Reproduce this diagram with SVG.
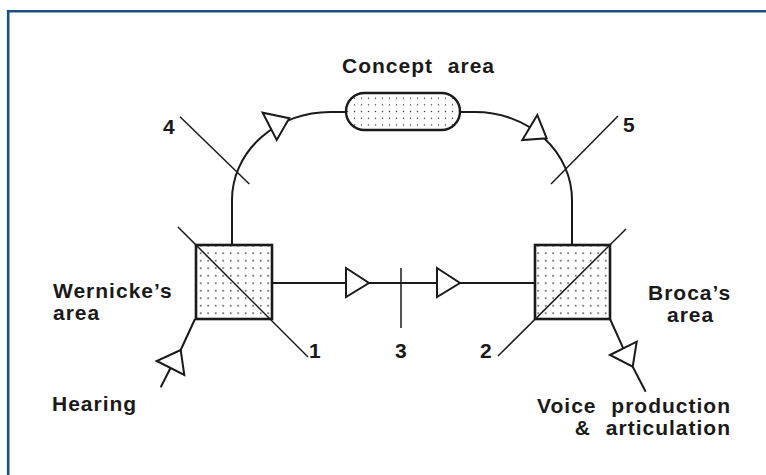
<svg xmlns="http://www.w3.org/2000/svg" width="766" height="475" viewBox="0 0 766 475">
<style>
.lbl{font-family:"Liberation Sans",Arial,sans-serif;font-weight:bold;font-size:21px;fill:#1a1a1a;letter-spacing:1px;word-spacing:8px}
.box{fill:url(#dots);stroke:#1a1a1a;stroke-width:2.6}
.ln{fill:none;stroke:#1a1a1a;stroke-width:2}
.thin{fill:none;stroke:#1a1a1a;stroke-width:1.5}
.arr{fill:#fff;stroke:#1a1a1a;stroke-width:2;stroke-linejoin:miter}
</style>
<defs>
<pattern id="dots" width="7.5" height="7.5" patternUnits="userSpaceOnUse" x="2" y="2">
<rect width="7.5" height="7.5" fill="#fff"/>
<circle cx="3.7" cy="3.7" r="0.85" fill="#333"/>
</pattern>
<pattern id="dots2" width="7" height="6.7" patternUnits="userSpaceOnUse" x="1" y="1">
<rect width="7" height="6.7" fill="#fff"/>
<circle cx="3.5" cy="3.3" r="0.75" fill="#333"/>
</pattern>
</defs>
<rect width="766" height="475" fill="#fff"/>
<g id="frame" fill="none" stroke="#1d4f87" stroke-width="2.6">
<line x1="6.9" y1="11.2" x2="766" y2="11.2"/>
<line x1="8.2" y1="10" x2="8.2" y2="475"/>
</g>
<g id="connectors">
<path class="ln" d="M232,245 L232,200 A98 88 0 0 1 330,112 L347,112"/>
<path class="ln" d="M460,112 L475,112 A97 88 0 0 1 572,200 L572,245"/>
<line class="ln" x1="272" y1="283" x2="535" y2="283"/>
<polygon class="arr" points="262.7,112.7 276.7,140 289.3,118.3"/>
<polygon class="arr" points="537.3,115 522.3,140 546.7,138.3"/>
<polygon class="arr" points="346,268 346,297 369,283"/>
<polygon class="arr" points="437,268 437,297 460,283"/>
<line class="ln" x1="195" y1="319" x2="180.7" y2="350"/>
<polygon class="arr" points="180.7,350 156.7,361 184.3,375"/>
<line class="ln" x1="170.5" y1="368" x2="160.7" y2="387.3"/>
<line class="ln" x1="610" y1="319" x2="623.3" y2="348.3"/>
<polygon class="arr" points="610,355 636.7,341.7 632.7,366.7"/>
<line class="ln" x1="632.7" y1="366.7" x2="645.7" y2="391.7"/>
</g>
<g id="wernicke">
<rect class="box" x="196" y="245" width="76" height="74"/>
<line class="thin" x1="178" y1="227" x2="308" y2="357"/>
<text class="lbl" x="53" y="298">Wernicke’s</text>
<text class="lbl" x="53" y="320">area</text>
</g>
<g id="broca">
<rect class="box" x="535" y="245" width="75" height="74"/>
<line class="thin" x1="498" y1="356" x2="626" y2="229"/>
<text class="lbl" x="648" y="300">Broca’s</text>
<text class="lbl" x="667" y="322">area</text>
</g>
<g id="concept">
<rect x="346" y="93" width="114" height="37" rx="18.5" ry="18.5" fill="url(#dots2)" stroke="#1a1a1a" stroke-width="2.4"/>
<text class="lbl" x="342" y="73">Concept area</text>
</g>
<g id="hearing">
<text class="lbl" x="52" y="411">Hearing</text>
</g>
<g id="voice">
<text class="lbl" x="731" y="413" text-anchor="end">Voice production</text>
<text class="lbl" x="731" y="435" text-anchor="end">&amp; articulation</text>
</g>
<g id="pointers">
<line class="thin" x1="180" y1="116.7" x2="249.3" y2="184"/>
<text class="lbl" x="163" y="134">4</text>
<line class="thin" x1="618" y1="116" x2="551" y2="184"/>
<text class="lbl" x="623" y="132">5</text>
<line class="thin" x1="401" y1="268" x2="401" y2="328"/>
<text class="lbl" x="309" y="358">1</text>
<text class="lbl" x="395" y="358">3</text>
<text class="lbl" x="480" y="358">2</text>
</g>
</svg>
